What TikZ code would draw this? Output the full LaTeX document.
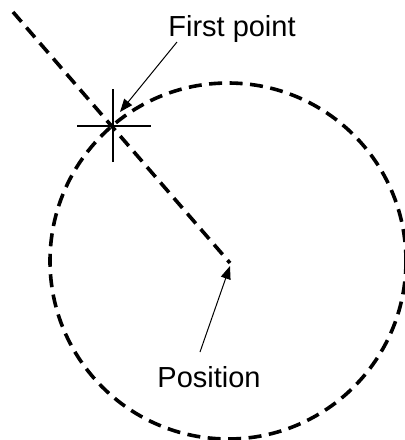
\documentclass[tikz,border=0pt]{standalone}
\usepackage{fontspec}
\setmainfont{Liberation Sans}
\usetikzlibrary{arrows.meta}
\begin{document}
\begin{tikzpicture}[x=1pt,y=-1pt,
  dashline/.style={line width=3.6pt,dash pattern=on 13pt off 7.5pt},
  crossline/.style={line width=2.8pt},
  pointer/.style={line width=1pt,-{Triangle[length=13pt,width=10pt]}},
  lbl/.style={font=\fontsize{29}{34}\selectfont,anchor=base,inner sep=0pt}]
\useasboundingbox (0,0) rectangle (405,440);
\coordinate (start) at (13,12);
\coordinate (pos) at (230,263);
\coordinate (ctr) at (228,261);
\coordinate (fp) at (113,126);
\draw[dashline] (start) -- (pos);
\draw[dashline] (ctr) circle[radius=178];
\draw[crossline] ([xshift=-36pt]fp) -- ([xshift=38pt]fp);
\draw[crossline] ([yshift=-36pt]fp) -- ([yshift=37pt]fp);
\node[lbl] (fplabel) at (232,36) {First point};
\node[lbl] (poslabel) at (209,387) {Position};
\coordinate (fparrow) at (177,42);
\coordinate (fptip) at (120,112);
\coordinate (posarrow) at (200,352);
\coordinate (postip) at (230,266);
\draw[pointer] (fparrow) -- (fptip);
\draw[pointer] (posarrow) -- (postip);
\end{tikzpicture}
\end{document}
